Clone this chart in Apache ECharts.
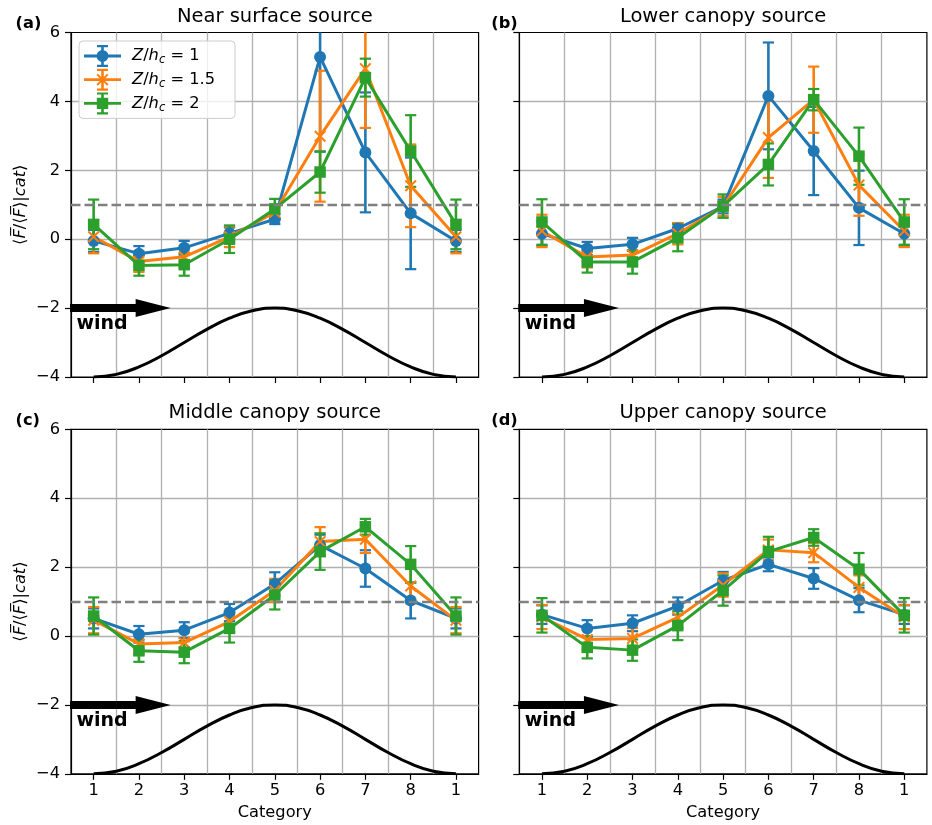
<!DOCTYPE html>
<html><head><meta charset="utf-8">
<script src="https://cdn.jsdelivr.net/npm/echarts@6/dist/echarts.min.js"></script>
<style>html,body{margin:0;padding:0;background:#fff;}#c{width:932px;height:825px;}</style>
</head><body><div id="c"></div>
<script>
// ---------- data ----------
const categoryLabels = ['1','2','3','4','5','6','7','8','1'];
const xPositions = [0,1,2,3,4,5,6,7,8];
const legendValues = ['1','1.5','2'];
const seriesNames = ['Z/hc=1','Z/hc=1.5','Z/hc=2'];
const panelTitles = ['Near surface source','Lower canopy source','Middle canopy source','Upper canopy source'];
const panelLetters = ['(a)','(b)','(c)','(d)'];
const yMin = -4, yMax = 6, yStep = 2;
const refLevel = 1;
const windArrow = [-0.5, 1.7, -2];
const hillX = [0,0.5,1,1.5,2,2.5,3,3.5,4,4.5,5,5.5,6,6.5,7,7.5,8];
const hillY = [-4,-3.924,-3.707,-3.383,-3,-2.617,-2.293,-2.076,-2,-2.076,-2.293,-2.617,-3,-3.383,-3.707,-3.924,-4];

// panel (a) Near surface source
const a_z1     = [-0.05,-0.42,-0.25,0.17,0.58,5.29,2.52,0.75,-0.05];
const a_z1_err = [0.32,0.22,0.20,0.17,0.14,2.75,1.74,1.62,0.32];
const a_z15     = [0.07,-0.65,-0.51,0.07,0.78,2.99,4.95,1.55,0.07];
const a_z15_err = [0.48,0.30,0.30,0.30,0.20,1.90,1.72,1.20,0.48];
const a_z2     = [0.43,-0.76,-0.74,0.00,0.88,1.95,4.69,2.56,0.43];
const a_z2_err = [0.72,0.30,0.32,0.40,0.29,0.60,0.55,1.04,0.72];
// panel (b) Lower canopy source
const b_z1     = [0.16,-0.27,-0.15,0.31,0.95,4.16,2.56,0.91,0.16];
const b_z1_err = [0.35,0.19,0.19,0.15,0.20,1.55,1.28,1.08,0.35];
const b_z15     = [0.24,-0.52,-0.46,0.16,0.95,2.95,4.05,1.57,0.24];
const b_z15_err = [0.47,0.30,0.30,0.31,0.28,1.17,0.96,0.89,0.47];
const b_z2     = [0.50,-0.66,-0.66,0.04,0.96,2.17,4.05,2.41,0.50];
const b_z2_err = [0.66,0.31,0.34,0.39,0.34,0.61,0.31,0.83,0.66];
// panel (c) Middle canopy source
const c_z1     = [0.51,0.05,0.17,0.68,1.51,2.64,1.96,1.03,0.51];
const c_z1_err = [0.29,0.24,0.23,0.25,0.34,0.30,0.53,0.52,0.29];
const c_z15     = [0.46,-0.23,-0.19,0.42,1.32,2.74,2.81,1.45,0.46];
const c_z15_err = [0.38,0.30,0.30,0.30,0.34,0.42,0.40,0.50,0.38];
const c_z2     = [0.58,-0.43,-0.47,0.22,1.19,2.45,3.17,2.08,0.58];
const c_z2_err = [0.54,0.32,0.32,0.41,0.42,0.53,0.23,0.53,0.54];
// panel (d) Upper canopy source
const d_z1     = [0.62,0.22,0.37,0.87,1.61,2.08,1.67,1.04,0.62];
const d_z1_err = [0.27,0.24,0.23,0.25,0.25,0.20,0.30,0.35,0.27];
const d_z15     = [0.55,-0.10,-0.07,0.54,1.48,2.50,2.42,1.41,0.55];
const d_z15_err = [0.35,0.30,0.30,0.30,0.34,0.30,0.28,0.35,0.35];
const d_z2     = [0.60,-0.33,-0.41,0.30,1.32,2.45,2.86,1.94,0.60];
const d_z2_err = [0.50,0.32,0.31,0.42,0.44,0.43,0.24,0.47,0.50];

const panelValues = [[a_z1,a_z15,a_z2],[b_z1,b_z15,b_z2],[c_z1,c_z15,c_z2],[d_z1,d_z15,d_z2]];
const panelErrors = [[a_z1_err,a_z15_err,a_z2_err],[b_z1_err,b_z15_err,b_z2_err],[c_z1_err,c_z15_err,c_z2_err],[d_z1_err,d_z15_err,d_z2_err]];

// ---------- styles / layout ----------
const FONT = 'DejaVu Sans';
const FS = 16.25;
const colors = ['#1f77b4','#ff7f0e','#2ca02c'];
const markerSymbols = ['circle','path://M0,2.4L2.4,0L10,7.6L17.6,0L20,2.4L12.4,10L20,17.6L17.6,20L10,12.4L2.4,20L0,17.6L7.6,10Z','rect'];
const markerSizes = [12, 12, 11.5];
const iconBase = 'path://M0,9.6H37V12.4H0Z M17.2,1H19.8V21H17.2Z M13,0H24V2.2H13Z M13,19.8H24V22H13Z ';
const legendIcons = [
  iconBase + 'M12.5,11A6,6,0,1,1,24.5,11A6,6,0,1,1,12.5,11Z',
  iconBase + 'M12.5,6.4L13.9,5L18.5,9.6L23.1,5L24.5,6.4L19.9,11L24.5,15.6L23.1,17L18.5,12.4L13.9,17L12.5,15.6L17.1,11Z',
  iconBase + 'M12.8,5.3H24.2V16.7H12.8Z'
];
const gridPos = [[71,32.5],[519.3,32.5],[71,429.3],[519.3,429.3]];
const GW = 407.6, GH = 344.5;

const minus = v => v < 0 ? '\u2212' + Math.abs(v) : String(v);

function errRenderer(color) {
  return function (params, api) {
    const x = api.value(0), y = api.value(1), e = api.value(2);
    const cs = params.coordSys;
    const top = api.coord([x, y + e]), bot = api.coord([x, y - e]);
    const lo = cs.y, hi = cs.y + cs.height;
    const t = Math.max(top[1], lo), b = Math.min(bot[1], hi);
    const hw = 5.6;
    const ch = [{type:'line', shape:{x1:top[0], y1:t, x2:top[0], y2:b}, style:{stroke:color, lineWidth:2.6}}];
    if (top[1] >= lo) ch.push({type:'line', shape:{x1:top[0]-hw, y1:top[1], x2:top[0]+hw, y2:top[1]}, style:{stroke:color, lineWidth:2.2}});
    if (bot[1] <= hi) ch.push({type:'line', shape:{x1:bot[0]-hw, y1:bot[1], x2:bot[0]+hw, y2:bot[1]}, style:{stroke:color, lineWidth:2.2}});
    return {type:'group', children:ch};
  };
}
function arrowRenderer(params, api) {
  const p0 = api.coord([api.value(0), api.value(2)]);
  const p1 = api.coord([api.value(1), api.value(2)]);
  const bh = 4, hl = 35, hw = 9, xh = p1[0] - hl, y = p0[1];
  return {type:'group', children:[
    {type:'polygon', shape:{points:[[p0[0]-1,y-bh],[xh,y-bh],[xh,y-hw],[p1[0],y],[xh,y+hw],[xh,y+bh],[p0[0]-1,y+bh]]}, style:{fill:'#000'}},
    {type:'text', x:p0[0]+5.5, y:y+16, style:{text:'wind', fill:'#000', fontSize:19, fontWeight:'bold', fontFamily:FONT, align:'left', verticalAlign:'middle', textAlign:'left', textVerticalAlign:'middle'}}
  ]};
}

const grids = [], xAxes = [], yAxes = [], series = [], graphics = [];
for (let p = 0; p < 4; p++) {
  const bottomRow = p >= 2, leftCol = (p % 2 === 0);
  grids.push({left:gridPos[p][0], top:gridPos[p][1], width:GW, height:GH, show:true, borderColor:'#000', borderWidth:1.2,
    backgroundColor:'transparent', containLabel:false, outerBoundsMode:'none'});
  xAxes.push({type:'category', gridIndex:p, data:categoryLabels, boundaryGap:true, position:'bottom',
    axisLine:{show:true, onZero:false, lineStyle:{color:'#000', width:1.2}},
    axisTick:{show:true, alignWithLabel:true, interval:0, length:6, lineStyle:{color:'#000', width:1.2}},
    axisLabel:{show:bottomRow, interval:0, margin:9, fontSize:FS, fontFamily:FONT, color:'#000'},
    splitLine:{show:true, interval:0, showMinLine:false, showMaxLine:false, lineStyle:{color:'#b0b0b0', width:1.3}},
    name: bottomRow ? 'Category' : '', nameLocation:'middle', nameGap:31,
    nameTextStyle:{fontSize:FS, fontFamily:FONT, color:'#000'}});
  xAxes.push({type:'value', gridIndex:p, min:-0.5, max:8.5, show:false, axisLine:{onZero:false}});
  yAxes.push({type:'value', gridIndex:p, min:yMin, max:yMax, interval:yStep, position:'left',
    axisLine:{show:true, onZero:false, lineStyle:{color:'#000', width:1.2}},
    axisTick:{show:true, length:6, lineStyle:{color:'#000', width:1.2}},
    axisLabel:{show:leftCol, margin:11, fontSize:FS, fontFamily:FONT, color:'#000', formatter:minus},
    splitLine:{show:true, showMinLine:false, showMaxLine:false, lineStyle:{color:'#b0b0b0', width:1.3}},
    name: leftCol ? '{n|\u27E8}{i|F\u0305}{n|/\u27E8}{i|F\u0305}{n|\u27E9|}{i|cat}{n|\u27E9}' : '',
    nameLocation:'middle', nameGap:42,
    nameTextStyle:{fontSize:FS, fontFamily:FONT, color:'#000',
      rich:{n:{fontSize:FS, fontFamily:FONT, color:'#000'}, i:{fontSize:FS, fontFamily:FONT, fontStyle:'italic', color:'#000'}}}});

  const xi = 2*p + 1;
  series.push({type:'line', xAxisIndex:xi, yAxisIndex:p, data:hillX.map((x,k)=>[x, hillY[k]]),
    smooth:true, symbol:'none', silent:true, lineStyle:{color:'#000', width:3}, z:2,
    markLine:{silent:true, symbol:['none','none'], label:{show:false}, animation:false,
      lineStyle:{color:'#808080', width:2.4, type:[9.5,4]}, data:[{yAxis:refLevel}]}});
  series.push({type:'custom', xAxisIndex:xi, yAxisIndex:p, data:[windArrow], encode:{x:[0,1], y:2},
    renderItem:arrowRenderer, silent:true, z:2});
  for (let s = 0; s < 3; s++) {
    const vals = panelValues[p][s], errs = panelErrors[p][s];
    series.push({type:'custom', name:seriesNames[s], xAxisIndex:xi, yAxisIndex:p,
      data:xPositions.map((x,k)=>[x, vals[k], errs[k]]), encode:{x:0, y:1},
      renderItem:errRenderer(colors[s]), itemStyle:{color:colors[s]}, silent:true, z:3});
    series.push({type:'line', name:seriesNames[s], xAxisIndex:xi, yAxisIndex:p,
      data:xPositions.map((x,k)=>[x, vals[k]]), symbol:markerSymbols[s], symbolSize:markerSizes[s],
      showSymbol:true, showAllSymbol:true, lineStyle:{color:colors[s], width:3},
      itemStyle:{color:colors[s], borderWidth:0}, emphasis:{disabled:true}, silent:true, z:3});
  }
  const cx = gridPos[p][0] + GW/2;
  graphics.push({type:'text', x:cx, y:gridPos[p][1] - 16,
    style:{text:panelTitles[p], fill:'#000', fontSize:19.5, fontFamily:FONT, align:'center', verticalAlign:'middle', textAlign:'center', textVerticalAlign:'middle'}});
  graphics.push({type:'text', x: leftCol ? 15.5 : 491.2, y:gridPos[p][1] - 8.5,
    style:{text:panelLetters[p], fill:'#000', fontSize:FS, fontWeight:'bold', fontFamily:FONT, align:'left', verticalAlign:'middle', textAlign:'left', textVerticalAlign:'middle'}});
}

const chart = echarts.init(document.getElementById('c'), null, {renderer:'canvas', width:932, height:825});
chart.setOption({
  animation:false,
  backgroundColor:'#fff',
  textStyle:{fontFamily:FONT},
  grid:grids, xAxis:xAxes, yAxis:yAxes, series:series,
  graphic:{elements:graphics},
  legend:{
    left:79, top:41, orient:'vertical', itemWidth:37, itemHeight:22, itemGap:1.7,
    padding:[4,20,4,5], backgroundColor:'rgba(255,255,255,0.8)', borderColor:'#cccccc', borderWidth:1, borderRadius:4,
    selectedMode:false,
    data:seriesNames.map((n,k)=>({name:n, icon:legendIcons[k]})),
    itemStyle:{borderWidth:0},
    formatter:function(name){ const v = legendValues[seriesNames.indexOf(name)]; return '{i|Z}{n|/}{i|h}{s|c}{n| = ' + v + '}'; },
    textStyle:{fontSize:FS, fontFamily:FONT, color:'#000', padding:[0,0,0,6],
      rich:{i:{fontSize:FS, fontFamily:FONT, fontStyle:'italic', color:'#000'},
            n:{fontSize:FS, fontFamily:FONT, color:'#000'},
            s:{fontSize:11.5, fontFamily:FONT, fontStyle:'italic', color:'#000', padding:[9,0,0,0]}}}
  }
});
</script></body></html>
